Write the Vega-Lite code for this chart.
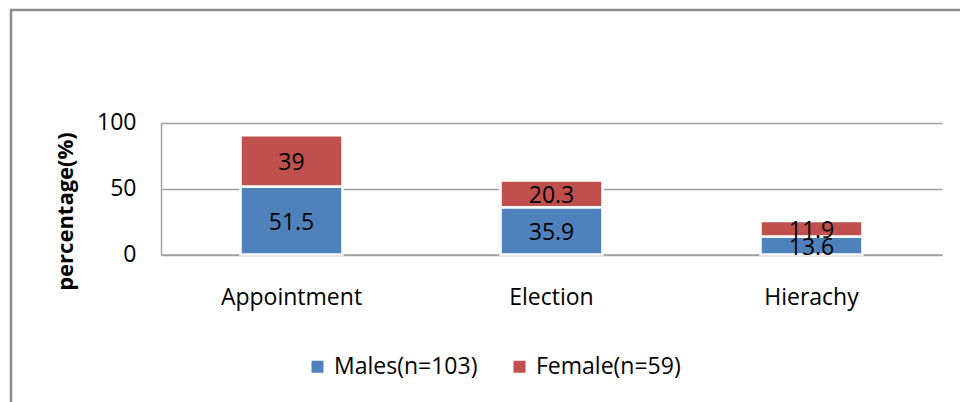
{
  "$schema": "https://vega.github.io/schema/vega-lite/v6.json",
  "autosize": {"type": "none"},
  "padding": {"left": 11, "top": 10, "right": -3, "bottom": -3},
  "width": 952,
  "height": 395,
  "background": "white",
  "config": {
    "font": "Open Sans",
    "view": {"stroke": "#8c8c8c", "strokeWidth": 2.5},
    "axis": {"domainColor": "#a0a0a0", "domainWidth": 1.5, "gridColor": "#a0a0a0", "gridWidth": 1.5, "ticks": false, "tickSize": 0, "labelFont": "Open Sans", "labelColor": "#000000", "labelFontSize": 23, "titleFont": "Open Sans", "titleColor": "#000000"}
  },
  "data": {
    "values": [
      {"category": "Appointment", "series": "Males(n=103)", "value": 51.5},
      {"category": "Appointment", "series": "Female(n=59)", "value": 39},
      {"category": "Election", "series": "Males(n=103)", "value": 35.9},
      {"category": "Election", "series": "Female(n=59)", "value": 20.3},
      {"category": "Hierachy", "series": "Males(n=103)", "value": 13.6},
      {"category": "Hierachy", "series": "Female(n=59)", "value": 11.9}
    ]
  },
  "transform": [
    {"stack": "value", "groupby": ["category"], "sort": [{"field": "series", "order": "descending"}], "as": ["v0", "v1"]}
  ],
  "encoding": {
    "x": {
      "field": "category", "type": "nominal", "sort": null,
      "scale": {"range": [150, 931], "paddingInner": 0.608, "paddingOuter": 0.306},
      "axis": {"title": null, "labelAngle": 0, "labelPadding": 32, "offset": -150.5, "grid": false, "labelFontSize": 23}
    }
  },
  "layer": [
    {
      "mark": {"type": "bar", "stroke": "white", "strokeWidth": 2.5},
      "encoding": {
        "y": {
          "field": "v1", "type": "quantitative",
          "scale": {"domain": [0, 100], "range": [244.5, 112.7], "nice": false, "zero": true},
          "axis": {"title": "percentage(%)", "values": [0, 50, 100], "grid": true, "offset": -150, "labelPadding": 25, "titleFontSize": 22, "titleFontWeight": "bold", "titleX": -84, "titleY": 201, "titleBaseline": "bottom", "titleAngle": -90, "titleAlign": "center"}
        },
        "y2": {"field": "v0"},
        "color": {
          "field": "series", "type": "nominal",
          "scale": {"domain": ["Males(n=103)", "Female(n=59)"], "range": ["#4F81BD", "#C0504D"]},
          "legend": {"title": null, "orient": "none", "direction": "horizontal", "legendX": 295, "legendY": 345, "symbolType": "square", "symbolSize": 144, "symbolStrokeWidth": 0, "labelFontSize": 23, "labelFont": "Open Sans", "labelColor": "#000000", "labelOffset": 5, "columnPadding": 30}
        }
      }
    },
    {
      "transform": [
        {"fold": ["v0", "v1"], "as": ["edge", "pos"]},
        {"aggregate": [{"op": "mean", "field": "pos", "as": "mid"}], "groupby": ["category", "series", "value"]}
      ],
      "mark": {"type": "text", "fontSize": 23, "color": "#000000", "dy": 2.5},
      "encoding": {
        "y": {"field": "mid", "type": "quantitative"},
        "text": {"field": "value", "type": "quantitative"}
      }
    }
  ]
}
